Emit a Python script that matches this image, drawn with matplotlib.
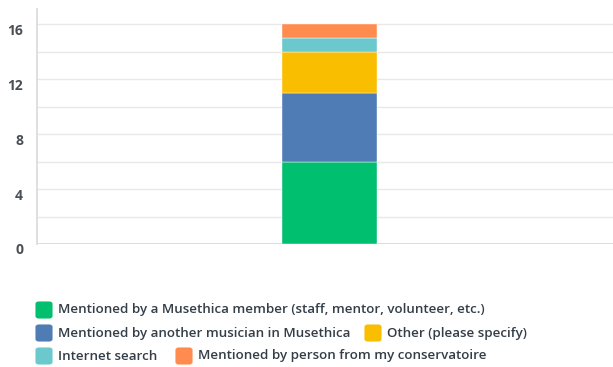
import matplotlib
matplotlib.use("Agg")
import matplotlib.pyplot as plt
from matplotlib.patches import FancyBboxPatch
from matplotlib.transforms import ScaledTranslation

# Survey answer counts, stacked bottom to top
categories = [
    "Mentioned by a Musethica member (staff, mentor, volunteer, etc.)",
    "Mentioned by another musician in Musethica",
    "Other (please specify)",
    "Internet search",
    "Mentioned by person from my conservatoire",
]
counts = [6, 5, 3, 1, 1]
colors = ["#00BF6F", "#507CB6", "#F9BE00", "#6BC8CD", "#FF8B4F"]
y_ticks = [0, 4, 8, 12, 16]

W, H = 613, 367
fig = plt.figure(figsize=(W / 100, H / 100), dpi=100)
FONT = "Open Sans"
TEXT = "#333e48"

# axes placed in pixel units
ax_left, ax_right, ax_top, ax_bottom = 37, 640, 9, 244
ax = fig.add_axes([ax_left / W, 1 - ax_bottom / H,
                   (ax_right - ax_left) / W, (ax_bottom - ax_top) / H])
ax.set_ylim(0, 17.1)
ax.set_xlim(-0.4851, 0.5149)

bottom = 0
for val, col in zip(counts, colors):
    ax.bar(0, val, width=0.156, bottom=bottom, color=col,
           edgecolor="white", linewidth=0.3, zorder=3)
    bottom += val

# light grid every 2 units
for g in range(2, 17, 2):
    ax.axhline(g, color="#e8e8e8", linewidth=1.0, zorder=1)
ax.axhline(0, color="#d6d6d6", linewidth=1.2, zorder=2)

for side in ["top", "right", "bottom"]:
    ax.spines[side].set_visible(False)
ax.spines["left"].set_color("#d9d9d9")
ax.spines["left"].set_linewidth(1.2)

ax.set_xticks([])
ax.set_yticks(y_ticks)
ax.set_yticklabels([str(t) for t in y_ticks], fontsize=10,
                   fontweight="bold", color="#4a4f55", family=FONT)
ax.tick_params(axis="y", length=0, pad=10)
offset = ScaledTranslation(0, -5 / 100, fig.dpi_scale_trans)
for lbl in ax.get_yticklabels():
    lbl.set_transform(lbl.get_transform() + offset)

# legend drawn as rounded swatches with labels
legend_rows = [
    [(0, 35)],
    [(1, 35), (2, 364)],
    [(3, 35), (4, 175)],
]
row_centers = [310, 333, 356]
sw = 18
for row, yc in zip(legend_rows, row_centers):
    for idx, x0 in row:
        patch = FancyBboxPatch(((x0 + 1.5) / W, 1 - (yc + sw / 2 - 1.5) / H),
                               (sw - 3) / W, (sw - 3) / H,
                               boxstyle="round,pad=0.0,rounding_size=0.004",
                               transform=fig.transFigure,
                               facecolor=colors[idx], edgecolor=colors[idx],
                               linewidth=1.5)
        fig.add_artist(patch)
        fig.text((x0 + sw + 5) / W, 1 - yc / H, categories[idx],
                 fontsize=9.6, color=TEXT, family=FONT, fontweight="semibold",
                 va="center", ha="left")

fig.savefig("out.png", dpi=100, facecolor="white")
